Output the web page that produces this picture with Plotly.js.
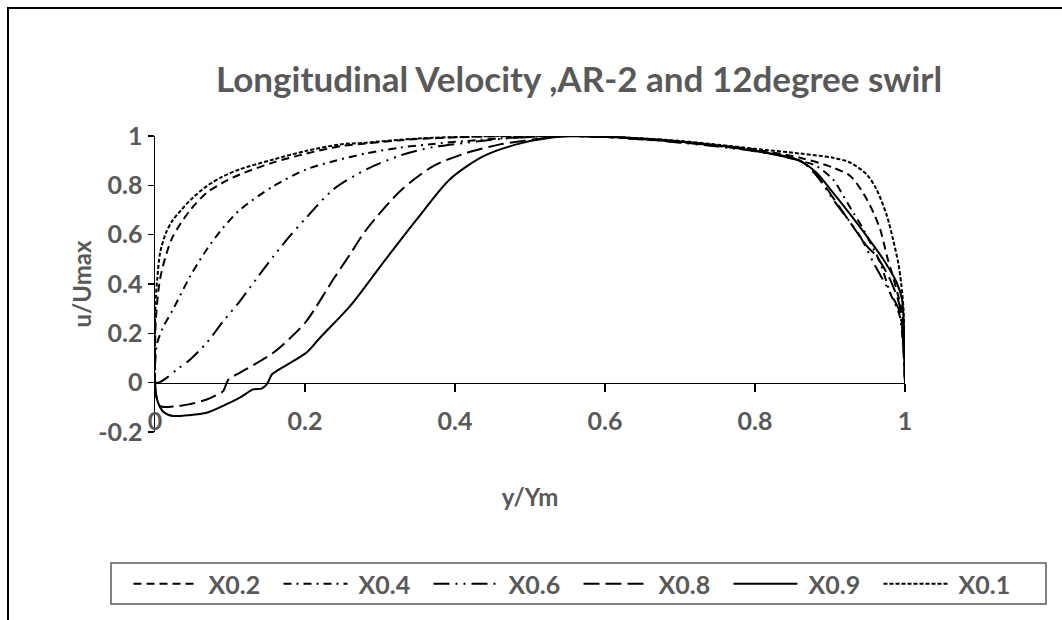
<!DOCTYPE html>
<html>
<head>
<meta charset="utf-8">
<script src="https://cdn.plot.ly/plotly-3.0.1.min.js"></script>
<style>
html,body{margin:0;padding:0;background:#fff;}
#wrap{position:relative;width:1062px;height:620px;overflow:hidden;}
#chart{position:absolute;left:0;top:0;width:1062px;height:620px;}
#frame{position:absolute;left:7px;top:7px;width:1070px;height:630px;border-left:2px solid #000;border-top:2px solid #000;pointer-events:none;}
</style>
</head>
<body>
<div id="wrap"><div id="chart"></div><div id="frame"></div></div>
<script>
// ---- data ----
const seriesNames = ["X0.2", "X0.4", "X0.6", "X0.8", "X0.9", "X0.1"];

const x_X02 = [0, 0.001, 0.0067, 0.015, 0.024, 0.047, 0.069, 0.09, 0.113, 0.158, 0.202, 0.247, 0.282, 0.327, 0.371, 0.416, 0.46, 0.5, 0.55, 0.6, 0.65, 0.7, 0.75, 0.8, 0.86, 0.904, 0.927, 0.944, 0.958, 0.967, 0.976, 0.983, 0.991, 0.996, 1];
const y_X02 = [0, 0.25, 0.42, 0.52, 0.594, 0.70, 0.77, 0.81, 0.844, 0.893, 0.929, 0.959, 0.97, 0.983, 0.991, 0.996, 0.999, 1.0, 1.0, 0.996, 0.988, 0.977, 0.962, 0.945, 0.912, 0.872, 0.838, 0.77, 0.689, 0.621, 0.513, 0.44, 0.351, 0.285, 0];

const x_X04 = [0, 0.002, 0.01, 0.024, 0.047, 0.069, 0.09, 0.113, 0.158, 0.202, 0.238, 0.282, 0.327, 0.371, 0.416, 0.46, 0.504, 0.55, 0.6, 0.65, 0.7, 0.75, 0.8, 0.86, 0.882, 0.904, 0.918, 0.931, 0.942, 0.955, 0.967, 0.98, 0.993, 1];
const y_X04 = [0, 0.148, 0.22, 0.297, 0.432, 0.54, 0.625, 0.70, 0.797, 0.865, 0.898, 0.93, 0.953, 0.968, 0.98, 0.99, 0.997, 1.0, 0.996, 0.987, 0.975, 0.96, 0.942, 0.9, 0.878, 0.824, 0.756, 0.689, 0.635, 0.56, 0.486, 0.365, 0.27, 0];

const x_X06 = [0, 0.005, 0.0156, 0.03, 0.047, 0.069, 0.09, 0.113, 0.135, 0.158, 0.18, 0.202, 0.238, 0.282, 0.327, 0.371, 0.416, 0.46, 0.504, 0.55, 0.6, 0.65, 0.7, 0.75, 0.8, 0.86, 0.882, 0.904, 0.94, 0.958, 0.98, 0.993, 1];
const y_X06 = [0, 0.0, 0.02, 0.055, 0.094, 0.162, 0.245, 0.33, 0.42, 0.513, 0.595, 0.67, 0.784, 0.865, 0.921, 0.955, 0.973, 0.988, 0.997, 1.0, 0.996, 0.986, 0.973, 0.957, 0.938, 0.9, 0.84, 0.743, 0.594, 0.486, 0.365, 0.285, 0];

const x_X08 = [0, 0.002, 0.0067, 0.024, 0.045, 0.069, 0.085, 0.091, 0.098, 0.113, 0.135, 0.158, 0.18, 0.202, 0.238, 0.26, 0.282, 0.327, 0.371, 0.416, 0.46, 0.504, 0.549, 0.6, 0.65, 0.7, 0.75, 0.8, 0.86, 0.882, 0.904, 0.927, 0.949, 0.962, 0.98, 0.993, 1];
const y_X08 = [0, -0.06, -0.095, -0.097, -0.088, -0.068, -0.045, -0.034, 0.013, 0.04, 0.078, 0.122, 0.18, 0.25, 0.42, 0.52, 0.621, 0.777, 0.878, 0.932, 0.966, 0.986, 1.0, 0.997, 0.988, 0.975, 0.96, 0.94, 0.9, 0.845, 0.75, 0.649, 0.554, 0.513, 0.419, 0.31, 0];

const x_X09 = [0, 0.001, 0.004, 0.01, 0.016, 0.024, 0.045, 0.069, 0.09, 0.113, 0.131, 0.142, 0.149, 0.156, 0.162, 0.202, 0.22, 0.26, 0.304, 0.349, 0.393, 0.438, 0.482, 0.527, 0.571, 0.6, 0.65, 0.7, 0.75, 0.8, 0.86, 0.882, 0.904, 0.927, 0.949, 0.971, 0.989, 0.996, 1];
const y_X09 = [0, -0.04, -0.081, -0.115, -0.128, -0.135, -0.132, -0.122, -0.095, -0.061, -0.027, -0.024, -0.007, 0.034, 0.047, 0.122, 0.182, 0.31, 0.486, 0.662, 0.824, 0.918, 0.966, 0.993, 1.0, 0.998, 0.99, 0.978, 0.962, 0.94, 0.898, 0.851, 0.77, 0.682, 0.594, 0.5, 0.405, 0.338, 0];

const x_X01 = [0, 0.0005, 0.003, 0.007, 0.015, 0.024, 0.035, 0.047, 0.069, 0.09, 0.113, 0.158, 0.202, 0.247, 0.282, 0.327, 0.371, 0.416, 0.46, 0.5, 0.55, 0.6, 0.65, 0.7, 0.75, 0.8, 0.86, 0.904, 0.927, 0.949, 0.962, 0.976, 0.984, 0.991, 0.995, 0.998, 1];
const y_X01 = [0, 0.31, 0.42, 0.53, 0.61, 0.66, 0.70, 0.74, 0.797, 0.835, 0.865, 0.905, 0.94, 0.966, 0.973, 0.985, 0.993, 0.997, 1.0, 1.0, 1.0, 0.997, 0.99, 0.98, 0.965, 0.948, 0.929, 0.912, 0.892, 0.844, 0.784, 0.675, 0.581, 0.486, 0.4, 0.297, 0];

const xTickVals = [0, 0.2, 0.4, 0.6, 0.8, 1];
const xTickText = ["0", "0.2", "0.4", "0.6", "0.8", "1"];
const yTickVals = [-0.2, 0, 0.2, 0.4, 0.6, 0.8, 1];
const yTickText = ["-0.2", "0", "0.2", "0.4", "0.6", "0.8", "1"];

// ---- styling ----
const FONT = "Lato, 'Open Sans', sans-serif";
const GREY = "#595959";
const dashes = ["8px,5px", "8px,5px,2px,5px", "16px,6px,2px,6px,2px,6px", "16px,6px", "solid", "4px,2px"];
const xs = [x_X02, x_X04, x_X06, x_X08, x_X09, x_X01];
const ys = [y_X02, y_X04, y_X06, y_X08, y_X09, y_X01];

const traces = seriesNames.map((n, i) => ({
  type: "scatter", mode: "lines", name: "\u00a0" + n,
  x: xs[i], y: ys[i],
  line: {color: "#000", width: 2, dash: dashes[i], shape: "spline", smoothing: 0.8}
}));

// plot area: x 155..905 px, y 136..432 px; paper spans 10..1052 horizontally
const ML = 10, MR = 10, W = 1062, MT = 136, MB = 188;
const PW = W - ML - MR, PH = 620 - MT - MB;
const px2x = p => (p - ML) / PW;
const px2y = p => (620 - MB - p) / PH;

const layout = {
  width: W, height: 620,
  margin: {l: ML, r: MR, t: MT, b: MB},
  paper_bgcolor: "#fff", plot_bgcolor: "#fff",
  font: {family: FONT, color: GREY},
  title: {
    text: "<b>Longitudinal Velocity ,AR-2 and 12degree swirl</b>",
    font: {family: FONT, size: 35, color: GREY},
    xref: "container", yref: "container",
    x: 579 / 1062, y: 1 - 80 / 620, xanchor: "center", yanchor: "middle"
  },
  xaxis: {
    domain: [px2x(155), px2x(905)],
    range: [0, 1], anchor: "free", position: 0.2 / 1.2,
    tickvals: xTickVals, ticktext: xTickText,
    showline: true, linecolor: "#000", linewidth: 1.5,
    ticks: "outside", ticklen: 8, tickcolor: "#000", tickwidth: 1.5,
    showgrid: false, zeroline: false,
    ticklabelstandoff: 8,
    tickfont: {family: FONT, size: 25, color: GREY, weight: "bold"},
    title: {text: "<b>y/Ym</b>", font: {family: FONT, size: 24, color: GREY}, standoff: 55}
  },
  yaxis: {
    range: [-0.2, 1], anchor: "x",
    tickvals: yTickVals, ticktext: yTickText,
    showline: true, linecolor: "#000", linewidth: 1.5,
    ticks: "outside", ticklen: 6, tickcolor: "#000", tickwidth: 1.5,
    showgrid: false, zeroline: false,
    tickfont: {family: FONT, size: 25, color: GREY, weight: "bold"},
    title: {text: "<b>u/Umax</b>", font: {family: FONT, size: 24, color: GREY}, standoff: 0}
  },
  showlegend: true,
  legend: {
    orientation: "h", x: px2x(578.5), xanchor: "center",
    y: px2y(561), yanchor: "top",
    bgcolor: "rgba(0,0,0,0)", borderwidth: 0,
    itemwidth: 64, entrywidth: 71, entrywidthmode: "pixels",
    font: {family: FONT, size: 25, color: GREY, weight: "bold"},
    traceorder: "normal"
  },
  shapes: [{
    type: "rect", xref: "paper", yref: "paper",
    x0: px2x(111), x1: px2x(1046), y0: px2y(563), y1: px2y(604),
    line: {color: GREY, width: 1.5}, fillcolor: "rgba(0,0,0,0)", layer: "below"
  }]
};

Plotly.newPlot("chart", traces, layout, {staticPlot: true, displayModeBar: false});
</script>
</body>
</html>
